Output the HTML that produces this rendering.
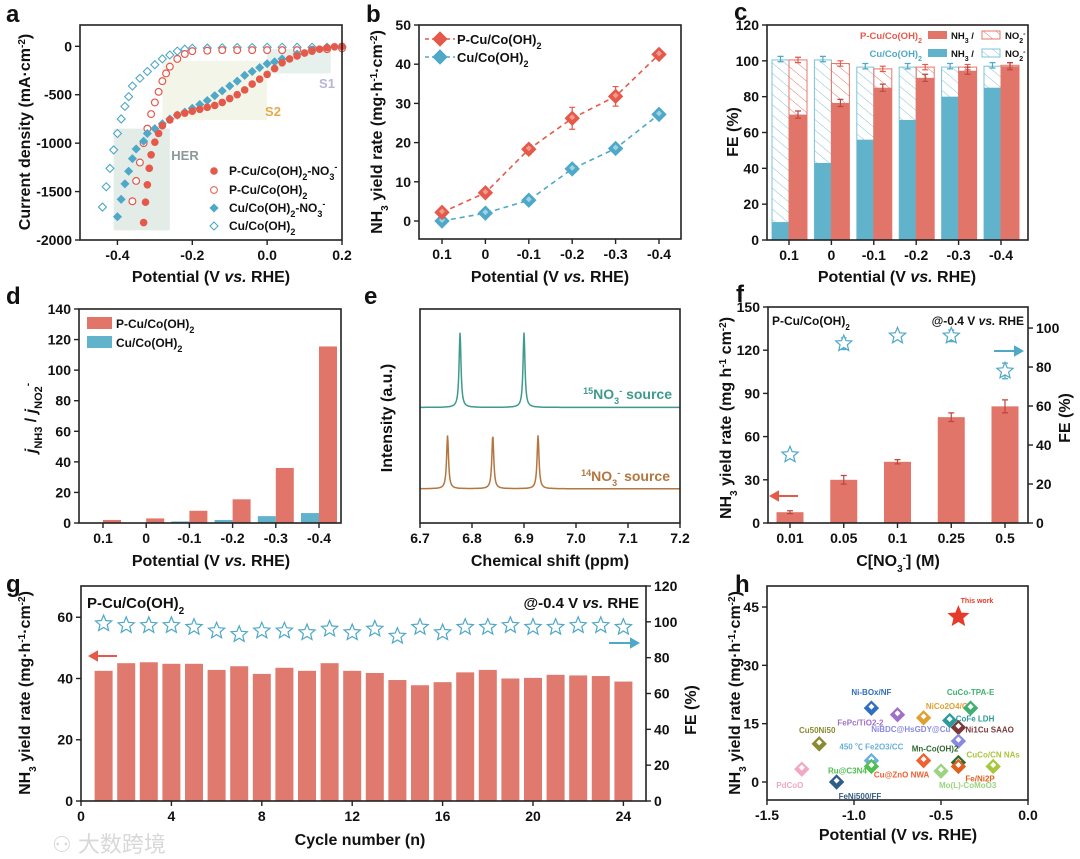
<!DOCTYPE html>
<html><head><meta charset="utf-8"><style>
html,body{margin:0;padding:0;background:#fff;}
svg{display:block;font-family:"Liberation Sans","Noto Sans CJK SC",sans-serif;font-weight:bold;}
</style></head><body>
<svg id="fig" width="1080" height="859" viewBox="0 0 1080 859" xmlns="http://www.w3.org/2000/svg">
<defs>
<pattern id="hatchR" patternUnits="userSpaceOnUse" width="8" height="8" patternTransform="rotate(-50)"><line x1="0" y1="0" x2="0" y2="8" stroke="#e8766a" stroke-width="1"/></pattern>
<pattern id="hatchB" patternUnits="userSpaceOnUse" width="8" height="8" patternTransform="rotate(-50)"><line x1="0" y1="0" x2="0" y2="8" stroke="#7cc3d8" stroke-width="1"/></pattern>
</defs>
<g font-size="24" fill="#111">
<text x="6" y="22">a</text><text x="366" y="22">b</text><text x="734" y="20">c</text>
<text x="6" y="304">d</text><text x="364" y="304">e</text><text x="736" y="302">f</text>
<text x="6" y="592">g</text><text x="735" y="592">h</text>
</g>
<g font-size="16" fill="#111" text-anchor="middle">
<text x="211" y="282">Potential (V <tspan font-style="italic">vs.</tspan> RHE)</text>
<text transform="translate(30,132) rotate(-90)">Current density (mA·cm<tspan baseline-shift="super" font-size="10">-2</tspan>)</text>
<text x="550" y="282">Potential (V <tspan font-style="italic">vs.</tspan> RHE)</text>
<text transform="translate(382,132) rotate(-90)">NH<tspan baseline-shift="sub" font-size="10">3</tspan> yield rate (mg·h<tspan baseline-shift="super" font-size="10">-1</tspan>·cm<tspan baseline-shift="super" font-size="10">-2</tspan>)</text>
<text x="897" y="282">Potential (V <tspan font-style="italic">vs.</tspan> RHE)</text>
<text transform="translate(738,132) rotate(-90)">FE (%)</text>
<text x="211" y="566">Potential (V <tspan font-style="italic">vs.</tspan> RHE)</text>
<text transform="translate(36,418) rotate(-90)"><tspan font-style="italic">j</tspan><tspan baseline-shift="sub" font-size="11">NH3</tspan> / <tspan font-style="italic">j</tspan><tspan baseline-shift="sub" font-size="11">NO2</tspan><tspan baseline-shift="super" font-size="10">-</tspan></text>
<text x="550" y="566">Chemical shift (ppm)</text>
<text transform="translate(392,418) rotate(-90)">Intensity (a.u.)</text>
<text x="898" y="566">C[NO<tspan baseline-shift="sub" font-size="10">3</tspan><tspan baseline-shift="super" font-size="10">-</tspan>] (M)</text>
<text transform="translate(731,418) rotate(-90)">NH<tspan baseline-shift="sub" font-size="10">3</tspan> yield rate (mg h<tspan baseline-shift="super" font-size="10">-1</tspan> cm<tspan baseline-shift="super" font-size="10">-2</tspan>)</text>
<text transform="translate(1070,418) rotate(-90)">FE (%)</text>
<text x="360" y="845">Cycle number (n)</text>
<text transform="translate(30,693) rotate(-90)">NH<tspan baseline-shift="sub" font-size="10">3</tspan> yield rate (mg·h<tspan baseline-shift="super" font-size="10">-1</tspan>·cm<tspan baseline-shift="super" font-size="10">-2</tspan>)</text>
<text transform="translate(696,710) rotate(-90)">FE (%)</text>
<text x="898" y="840">Potential (V <tspan font-style="italic">vs.</tspan> RHE)</text>
<text transform="translate(740,693) rotate(-90)">NH<tspan baseline-shift="sub" font-size="10">3</tspan> yield rate (mg·h<tspan baseline-shift="super" font-size="10">-1</tspan>·cm<tspan baseline-shift="super" font-size="10">-2</tspan>)</text>
</g>
<text x="52" y="852" font-size="22" fill="#d8d8d8" font-weight="normal">⚇ 大数跨境</text>
</svg>
<script>
// ---------- data ----------
// panel a
const aPNO3x=[0.2,0.18,0.16,0.14,0.12,0.10,0.08,0.06,0.04,0.02,0.0,-0.02,-0.04,-0.06,-0.08,-0.10,-0.12,-0.14,-0.16,-0.18,-0.20,-0.22,-0.24,-0.26,-0.28,-0.29,-0.30,-0.31,-0.315,-0.32,-0.325,-0.33];
const aPNO3y=[0,-5,-15,-30,-50,-70,-100,-130,-170,-230,-290,-340,-390,-450,-500,-540,-580,-610,-630,-650,-670,-690,-710,-760,-820,-900,-990,-1120,-1260,-1430,-1610,-1820];
const aPx=[0.2,0.16,0.12,0.08,0.04,0.0,-0.04,-0.08,-0.12,-0.16,-0.20,-0.22,-0.24,-0.26,-0.27,-0.28,-0.29,-0.30,-0.31,-0.32,-0.33,-0.34,-0.35,-0.36];
const aPy=[-20,-30,-35,-40,-40,-40,-40,-40,-40,-45,-50,-80,-130,-210,-280,-360,-470,-580,-700,-850,-1000,-1200,-1390,-1600];
const aCNO3x=[0.2,0.16,0.12,0.08,0.04,0.02,0.0,-0.02,-0.04,-0.06,-0.08,-0.10,-0.12,-0.14,-0.16,-0.18,-0.20,-0.22,-0.24,-0.26,-0.28,-0.30,-0.32,-0.33,-0.35,-0.36,-0.37,-0.38,-0.39,-0.40];
const aCNO3y=[0,-10,-40,-80,-130,-160,-180,-220,-260,-300,-360,-410,-460,-510,-560,-600,-640,-680,-710,-750,-800,-850,-900,-980,-1060,-1160,-1290,-1420,-1580,-1760];
const aCx=[0.2,0.16,0.12,0.08,0.04,0.0,-0.04,-0.08,-0.12,-0.16,-0.20,-0.22,-0.24,-0.26,-0.28,-0.30,-0.32,-0.34,-0.36,-0.37,-0.38,-0.39,-0.40,-0.41,-0.42,-0.43,-0.44];
const aCy=[-10,-10,-10,-10,-10,-10,-12,-12,-15,-18,-20,-30,-50,-90,-130,-190,-260,-330,-410,-520,-620,-750,-900,-1070,-1260,-1450,-1660];
// panel b
const bCats=["0.1","0","-0.1","-0.2","-0.3","-0.4"];
const bP=[2.2,7.2,18.3,26.2,31.8,42.5];
const bPerr=[0.6,0.9,1.2,2.8,2.5,0.8];
const bC=[0,2.0,5.3,13.3,18.5,27.2];
// panel c
const cCats=["0.1","0","-0.1","-0.2","-0.3","-0.4"];
const cBnh3=[10,43,56,67,80,85];
const cBtot=[100.5,100.5,96.5,96.5,96.5,97];
const cRnh3=[70,76.5,85,90.5,94.5,97];
const cRtot=[100.5,98.5,95.5,96.5,96.5,97.5];
// panel d
const dCats=["0.1","0","-0.1","-0.2","-0.3","-0.4"];
const dP=[2,3,8,15.5,36,115.5];
const dC=[0,0,1,2,4.5,6.5];
// panel e (peak positions / heights)
const e15pos=[6.777,6.900]; const e15h=[3.5,3.5]; const e15base=5.4;
const e14pos=[6.753,6.840,6.927]; const e14h=[2.5,2.5,2.5]; const e14base=1.6;
// panel f
const fCats=["0.01","0.05","0.1","0.25","0.5"];
const fYield=[7.5,30,42.5,73.5,81];
const fYerr=[1,3,1.5,3,4.5];
const fFE=[35,92,96,96,78];
const fFEerr=[1,3,1.5,3,4];
// panel g
const gCycles=[1,2,3,4,5,6,7,8,9,10,11,12,13,14,15,16,17,18,19,20,21,22,23,24];
const gYield=[42.5,45,45.3,44.8,44.8,42.8,44,41.5,43.5,42.5,45,42.5,41.8,39.5,37.8,38.8,42,42.8,40,40.2,41.2,41,40.8,39];
const gFE=[99,98,98,98,97,95,93,95,95,94,96,94,96,92,97,94,97,97,98,97,97,98,98,97];
// panel h
const hNames=["PdCoO","FeNi500/FF","Cu50Ni50","450 ℃ Fe2O3/CC","Ru@C3N4","Ni-BOx/NF","FePc/TiO2-2","NiCo2O4/CC","Cu@ZnO NWA","Mo(L)-CoMoO3","CoFe LDH","Ni1Cu SAAO","NiBDC@HsGDY@Cu","Mn-Co(OH)2","Fe/Ni2P","CuCo-TPA-E","CuCo/CN NAs"];
const hX=[-1.3,-1.1,-1.2,-0.9,-0.9,-0.9,-0.75,-0.6,-0.6,-0.5,-0.45,-0.4,-0.4,-0.4,-0.4,-0.33,-0.2];
const hY=[3.3,0,9.8,5.5,4,19,17.3,16.5,5.5,2.8,15.8,14,10.5,5,4,19,4];
const hThisX=[-0.4]; const hThisY=[42.5];

// ---------- helpers ----------
const NS="http://www.w3.org/2000/svg";
const svg=document.getElementById('fig');
function el(tag,attrs,parent){const e=document.createElementNS(NS,tag);for(const k in attrs)e.setAttribute(k,attrs[k]);(parent||svg).appendChild(e);return e;}
function lin(d0,d1,r0,r1){return v=>r0+(v-d0)*(r1-r0)/(d1-d0);}
function box(x0,y0,x1,y1,name){const r=el('rect',{x:x0,y:y0,width:x1-x0,height:y1-y0,fill:'none',stroke:'#222','stroke-width':1.6});

}
function txt(x,y,html,o){o=o||{};const t=el('text',{x:x,y:y,'font-size':o.fs||13,fill:o.fill||'#111','text-anchor':o.anchor||'middle'});t.innerHTML=html;

return t;}
function xTicks(vals,labels,sx,y,name){vals.forEach((v,i)=>{const l=el('line',{x1:sx(v),x2:sx(v),y1:y,y2:y+5,stroke:'#222','stroke-width':1.4});


txt(sx(v),y+20,labels[i],{fs:14,name:name+'-tick-label'});});}
function yTicks(vals,labels,sy,x,name,right){vals.forEach((v,i)=>{const l=el('line',{x1:x,x2:right?x+5:x-5,y1:sy(v),y2:sy(v),stroke:'#222','stroke-width':1.4});


txt(right?x+8:x-8,sy(v)+5,labels[i],{fs:14,anchor:right?'start':'end',name:name+'-tick-label'});});}
function diamond(cx,cy,s,fill,stroke,sw,name){const p=el('polygon',{points:`${cx},${cy-s} ${cx+s},${cy} ${cx},${cy+s} ${cx-s},${cy}`,fill:fill,stroke:stroke,'stroke-width':sw||1.3});

return p;}
function star(cx,cy,r,fill,stroke,name){let pts=[];for(let k=0;k<10;k++){const a=-Math.PI/2+k*Math.PI/5;const rr=k%2?r*0.45:r;pts.push((cx+rr*Math.cos(a)).toFixed(1)+','+(cy+rr*Math.sin(a)).toFixed(1));}
const p=el('polygon',{points:pts.join(' '),fill:fill,stroke:stroke,'stroke-width':1.2});

return p;}
function rect(x,y,w,h,fill,name,stroke){const r=el('rect',{x:x,y:y,width:w,height:h,fill:fill,stroke:stroke||'none','stroke-width':1});

return r;}
function errbar(x,y0,y1,col,name){const g=el('path',{d:`M${x},${y0}V${y1}M${x-3},${y0}H${x+3}M${x-3},${y1}H${x+3}`,stroke:col,'stroke-width':1.2,fill:'none'});

}
function arrow(x0,x1,y,col,name){const d=x1>x0?1:-1;const p=el('path',{d:`M${x0},${y}H${x1}M${x1},${y}l${-7*d},-4v8z`,stroke:col,fill:col,'stroke-width':2});

}
const RED='#e5594b',BLUE='#4ea8c8',RBAR='#e2756a',BBAR='#61b3cb';

// ---------- panel a ----------
(function(){const sx=lin(-0.5,0.2,80,342),sy=lin(-2000,220,240,25);
rect(sx(0),sy(-30),sx(0.17)-sx(0),sy(-280)-sy(-30),'#e6f0ec','s1-region');
rect(sx(-0.28),sy(-150),sx(0)-sx(-0.28),sy(-760)-sy(-150),'#f3f5e8','s2-region');
rect(sx(-0.41),sy(-850),sx(-0.26)-sx(-0.41),sy(-1900)-sy(-850),'#e4ece8','her-region');
txt(327,88,'S1',{fs:13,fill:'#b9b3d8',name:'s1-label'});txt(273,116,'S2',{fs:13,fill:'#e6aa4a',name:'s2-label'});txt(185,160,'HER',{fs:13,fill:'#8b9a98',name:'her-label'});
aCx.forEach((x,i)=>diamond(sx(x),sy(aCy[i]),4,'#fff',BLUE,1.1,'cu-open-point'));
aPx.forEach((x,i)=>{const c=el('circle',{cx:sx(x),cy:sy(aPy[i]),r:3.4,fill:'#fff',stroke:RED,'stroke-width':1.2});

});
aCNO3x.forEach((x,i)=>diamond(sx(x),sy(aCNO3y[i]),4.3,BLUE,BLUE,0.5,'cu-no3-point'));
aPNO3x.forEach((x,i)=>{const c=el('circle',{cx:sx(x),cy:sy(aPNO3y[i]),r:3.8,fill:RED});

});
box(80,25,342,240,'plot-a-frame');
xTicks([-0.4,-0.2,0,0.2],['-0.4','-0.2','0.0','0.2'],sx,240,'a-x');
yTicks([0,-500,-1000,-1500,-2000],['0','-500','-1000','-1500','-2000'],sy,80,'a-y');
const L=[['P-Cu/Co(OH)<tspan baseline-shift="sub" font-size="9">2</tspan>-NO<tspan baseline-shift="sub" font-size="9">3</tspan><tspan baseline-shift="super" font-size="9">-</tspan>',171],['P-Cu/Co(OH)<tspan baseline-shift="sub" font-size="9">2</tspan>',190],['Cu/Co(OH)<tspan baseline-shift="sub" font-size="9">2</tspan>-NO<tspan baseline-shift="sub" font-size="9">3</tspan><tspan baseline-shift="super" font-size="9">-</tspan>',208],['Cu/Co(OH)<tspan baseline-shift="sub" font-size="9">2</tspan>',226]];
L.forEach((l,i)=>txt(229,l[1]+4,l[0],{fs:12,anchor:'start',name:'legend-entry'}));
const c1=el('circle',{cx:214,cy:171,r:3.8,fill:RED});


const c2=el('circle',{cx:214,cy:190,r:3.4,fill:'#fff',stroke:RED});


diamond(214,208,4.3,BLUE,BLUE,0.5,'legend-marker');diamond(214,226,4,'#fff',BLUE,1.1,'legend-marker');
})();

// ---------- panel b ----------
(function(){const sx=i=>442+i*43.4,sy=lin(0,50,221,25);
box(419,25,681,239,'plot-b-frame');
xTicks(bCats.map((c,i)=>i),bCats,sx,239,'b-x');
yTicks([0,10,20,30,40,50],['0','10','20','30','40','50'],sy,419,'b-y');
[[bC,BLUE,'#9fd2e3','cu'],[bP,RED,'#f09a8f','p-cu']].forEach(s=>{
const p=el('path',{d:s[0].map((v,i)=>(i?'L':'M')+sx(i)+','+sy(v)).join(''),fill:'none',stroke:s[1],'stroke-width':1.6,'stroke-dasharray':'5,4'});


s[0].forEach((v,i)=>{if(s[3]==='p-cu')errbar(sx(i),sy(v-bPerr[i]),sy(v+bPerr[i]),RED,'p-cu-errbar');diamond(sx(i),sy(v),7,s[1],s[1],1,s[3]+'-point');diamond(sx(i),sy(v)-1,3,s[2],'none',0,s[3]+'-point-highlight');});});
[[39,RED,'#f09a8f','P-Cu/Co(OH)<tspan baseline-shift="sub" font-size="9">2</tspan>'],[57,BLUE,'#9fd2e3','Cu/Co(OH)<tspan baseline-shift="sub" font-size="9">2</tspan>']].forEach(l=>{
const ln=el('line',{x1:425,x2:455,y1:l[0],y2:l[0],stroke:l[1],'stroke-width':1.6,'stroke-dasharray':'4,3'});


diamond(440,l[0],7,l[1],l[1],1,'legend-marker');txt(457,l[0]+5,l[3],{fs:13,anchor:'start',name:'legend-entry'});});
})();

// ---------- panel c ----------
(function(){const cx=i=>789+i*42.4,sy=lin(0,120,240,25);
cCats.forEach((c,i)=>{const x=cx(i);
rect(x-17,sy(cBtot[i]),17,sy(0)-sy(cBtot[i]),'url(#hatchB)','cu-no2-bar','#7cc3d8');
rect(x-17,sy(cBnh3[i]),17,sy(0)-sy(cBnh3[i]),BBAR,'cu-nh3-bar');
rect(x,sy(cRtot[i]),18,sy(0)-sy(cRtot[i]),'url(#hatchR)','p-cu-no2-bar','#e8766a');
rect(x,sy(cRnh3[i]),18,sy(0)-sy(cRnh3[i]),RBAR,'p-cu-nh3-bar');
errbar(x-8.5,sy(cBtot[i]+2),sy(cBtot[i]-1),BLUE,'cu-errbar');errbar(x+9,sy(cRtot[i]+1.5),sy(cRtot[i]-1.5),RED,'p-cu-errbar');
errbar(x+9,sy(cRnh3[i]+2),sy(cRnh3[i]-2),'#b84a40','p-cu-nh3-errbar');});
box(767,25,1028,240,'plot-c-frame');
xTicks(cCats.map((c,i)=>i),cCats,cx,240,'c-x');
yTicks([0,20,40,60,80,100,120],['0','20','40','60','80','100','120'],sy,767,'c-y');
txt(922,39,'P-Cu/Co(OH)<tspan baseline-shift="sub" font-size="7">2</tspan>',{fs:9.5,anchor:'end',fill:RED,name:'legend-p-cu'});
txt(922,57,'Cu/Co(OH)<tspan baseline-shift="sub" font-size="7">2</tspan>',{fs:9.5,anchor:'end',fill:BLUE,name:'legend-cu'});
rect(928,31,19,8,RBAR,'legend-swatch');rect(928,49,19,8,BBAR,'legend-swatch');
rect(982,31,18,8,'url(#hatchR)','legend-swatch','#e8766a');rect(982,49,18,8,'url(#hatchB)','legend-swatch','#7cc3d8');
['39','57'].forEach(y=>{txt(951,+y,'NH<tspan baseline-shift="sub" font-size="7">3</tspan>  /',{fs:9.5,anchor:'start',name:'legend-nh3'});txt(1005,+y,'NO<tspan baseline-shift="sub" font-size="7">2</tspan><tspan baseline-shift="super" font-size="7">-</tspan>',{fs:9.5,anchor:'start',name:'legend-no2'});});
})();

// ---------- panel d ----------
(function(){const cx=i=>103+i*43.2,sy=lin(0,140,523,309);
dCats.forEach((c,i)=>{rect(cx(i)-18,sy(dC[i]),18,sy(0)-sy(dC[i]),BBAR,'cu-bar');rect(cx(i),sy(dP[i]),18,sy(0)-sy(dP[i]),RBAR,'p-cu-bar');});
box(79,309,341,523,'plot-d-frame');
xTicks(dCats.map((c,i)=>i),dCats,cx,523,'d-x');
yTicks([0,20,40,60,80,100,120,140],['0','20','40','60','80','100','120','140'],sy,79,'d-y');
rect(87,317,25,12,RBAR,'legend-swatch');rect(87,336,25,12,BBAR,'legend-swatch');
txt(116,328,'P-Cu/Co(OH)<tspan baseline-shift="sub" font-size="9">2</tspan>',{fs:12,anchor:'start',name:'legend-entry'});
txt(116,347,'Cu/Co(OH)<tspan baseline-shift="sub" font-size="9">2</tspan>',{fs:12,anchor:'start',name:'legend-entry'});
})();

// ---------- panel e ----------
(function(){const sx=lin(6.7,7.2,420,680),sy=lin(0,10,523,309);
function spec(pos,h,base,col,name){let d='';for(let k=0;k<=520;k++){const x=6.7+k*0.5/520;let v=base;pos.forEach((p,j)=>{const w=0.0022;v+=h[j]*w*w/((x-p)*(x-p)+w*w);});d+=(k?'L':'M')+sx(x).toFixed(1)+','+sy(v).toFixed(1);}
const p=el('path',{d:d,fill:'none',stroke:col,'stroke-width':1.5});

}
spec(e15pos,e15h,e15base,'#3f9a8e','spectrum-15no3');
spec(e14pos,e14h,e14base,'#b4763f','spectrum-14no3');
box(420,309,680,523,'plot-e-frame');
xTicks([6.7,6.8,6.9,7.0,7.1,7.2],['6.7','6.8','6.9','7.0','7.1','7.2'],sx,523,'e-x');
txt(672,399,'<tspan baseline-shift="super" font-size="9">15</tspan>NO<tspan baseline-shift="sub" font-size="9">3</tspan><tspan baseline-shift="super" font-size="9">-</tspan> source',{fs:14,anchor:'end',fill:'#3f9a8e',name:'label-15no3'});
txt(670,481,'<tspan baseline-shift="super" font-size="9">14</tspan>NO<tspan baseline-shift="sub" font-size="9">3</tspan><tspan baseline-shift="super" font-size="9">-</tspan> source',{fs:14,anchor:'end',fill:'#b4763f',name:'label-14no3'});
})();

// ---------- panel f ----------
(function(){const cx=i=>790+i*53.75,sy=lin(0,150,523,307),sy2=lin(0,110.8,523,307);
fCats.forEach((c,i)=>{rect(cx(i)-13.5,sy(fYield[i]),27,sy(0)-sy(fYield[i]),RBAR,'yield-bar');errbar(cx(i),sy(fYield[i]-fYerr[i]),sy(fYield[i]+fYerr[i]),'#c0453b','yield-errbar');
errbar(cx(i),sy2(fFE[i]-fFEerr[i]),sy2(fFE[i]+fFEerr[i]),BLUE,'fe-errbar');star(cx(i),sy2(fFE[i]),8.5,'#fff',BLUE,'fe-star');});
box(768,307,1028,523,'plot-f-frame');
xTicks(fCats.map((c,i)=>i),fCats,cx,523,'f-x');
yTicks([0,30,60,90,120,150],['0','30','60','90','120','150'],sy,768,'f-y');
yTicks([0,20,40,60,80,100],['0','20','40','60','80','100'],sy2,1028,'f-y2',true);
arrow(798,771,496,RED,'yield-axis-arrow');arrow(994,1022,351,BLUE,'fe-axis-arrow');
txt(772,325,'P-Cu/Co(OH)<tspan baseline-shift="sub" font-size="8">2</tspan>',{fs:12,anchor:'start',name:'sample-label'});
txt(1024,325,'@-0.4 V <tspan font-style="italic">vs.</tspan> RHE',{fs:12,anchor:'end',name:'condition-label'});
})();

// ---------- panel g ----------
(function(){const sx=lin(0,25,81,646),sy=lin(0,70.2,801,586),sy2=lin(0,120,801,586);
gCycles.forEach((c,i)=>{rect(sx(c)-9,sy(gYield[i]),18,sy(0)-sy(gYield[i]),'#e07a6e','cycle-bar');star(sx(c),sy2(gFE[i]),8.5,'#fff',BLUE,'fe-star');});
box(81,586,646,801,'plot-g-frame');
xTicks([0,4,8,12,16,20,24],['0','4','8','12','16','20','24'],sx,801,'g-x');
yTicks([0,20,40,60],['0','20','40','60'],sy,81,'g-y');
yTicks([0,20,40,60,80,100,120],['0','20','40','60','80','100','120'],sy2,646,'g-y2',true);
arrow(117,90,656,RED,'yield-axis-arrow');arrow(609,638,643,BLUE,'fe-axis-arrow');
txt(87,608,'P-Cu/Co(OH)<tspan baseline-shift="sub" font-size="10">2</tspan>',{fs:15,anchor:'start',name:'sample-label'});
txt(639,608,'@-0.4 V <tspan font-style="italic">vs.</tspan> RHE',{fs:15,anchor:'end',name:'condition-label'});
})();

// ---------- panel h ----------
(function(){const sx=lin(-1.5,0,767,1028),sy=lin(0,45,782,607);
const cols=['#f2a7c4','#2f5d8a','#8a8a30','#6ab0dc','#4fbf52','#2f6fbf','#a070c6','#e0a030','#f06030','#9ad47e','#2a9a9a','#7a3a3a','#8a8ae0','#2f6a2f','#e06020','#3fb070','#a8c63e'];
const lab=[[-12,16,'middle'],[2,14,'start'],[-2,-14,'middle'],[0,-14,'middle'],[-24,4,'middle'],[0,-16,'middle'],[-14,8,'end'],[26,-12,'middle'],[-22,14,'middle'],[-2,14,'start'],[6,-2,'start'],[7,2,'start'],[-8,-12,'end'],[0,-14,'end'],[7,12,'start'],[0,-16,'middle'],[0,-12,'middle']];
hNames.forEach((n,i)=>{const x=sx(hX[i]),y=sy(hY[i]);diamond(x,y,7,cols[i],cols[i],1,'literature-point');diamond(x,y-1.5,3,'#fff','none',0,'literature-point-highlight');
txt(x+lab[i][0],y+lab[i][1]+3,n,{fs:8,anchor:lab[i][2],fill:cols[i],name:'literature-label'});});
hThisX.forEach((v,i)=>star(sx(v),sy(hThisY[i]),10,'#e63a2a','#e63a2a','this-work-star'));
txt(977,603,'This work',{fs:7,fill:'#e63a2a',name:'this-work-label'});
box(767,586,1028,800,'plot-h-frame');
xTicks([-1.5,-1.0,-0.5,0.0],['-1.5','-1.0','-0.5','0.0'],sx,800,'h-x');
yTicks([0,15,30,45],['0','15','30','45'],sy,767,'h-y');
})();
</script>
</body></html>
